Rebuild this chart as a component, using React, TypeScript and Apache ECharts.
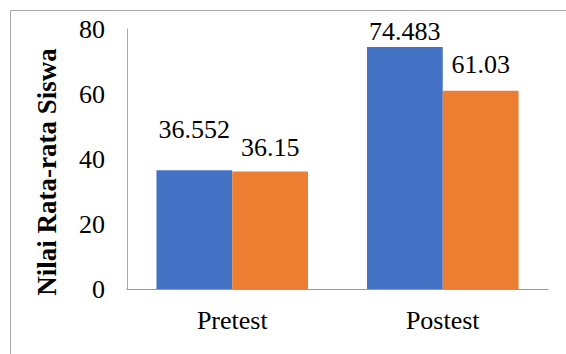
import React, { useEffect, useRef } from "react";
import * as echarts from "echarts";

const categories = ["Pretest", "Postest"];
const seriesA = [36.552, 74.483];
const seriesB = [36.15, 61.03];
const yTicks = [0, 20, 40, 60, 80];
const yTitle = "Nilai Rata-rata Siswa";

// gap between each bar top and its value label
const labelGapA = [28, 2];
const labelGapB = [11, 13];

const FONT = "Liberation Serif";

export default function App() {
  const ref = useRef<HTMLDivElement>(null);

  useEffect(() => {
    if (!ref.current) return;
    const chart = echarts.init(ref.current, null, { renderer: "svg" });
    const labelStyle = { show: true, position: "top" as const, color: "#000", fontFamily: FONT, fontSize: 26 };
    chart.setOption({
      animation: false,
      backgroundColor: "#fff",
      textStyle: { fontFamily: FONT },
      grid: { left: 127, right: 18, top: 29, bottom: 65, containLabel: false },
      xAxis: {
        type: "category",
        data: categories,
        axisLine: { lineStyle: { color: "#999", width: 1 } },
        axisTick: { show: false },
        axisLabel: { color: "#000", fontFamily: FONT, fontSize: 26, margin: 18 },
      },
      yAxis: {
        type: "value",
        min: yTicks[0],
        max: yTicks[yTicks.length - 1],
        interval: 20,
        axisLine: { show: true, lineStyle: { color: "#aaa", width: 1 } },
        axisTick: { show: false },
        splitLine: { show: false },
        axisLabel: { color: "#000", fontFamily: FONT, fontSize: 26, margin: 22 },
      },
      graphic: [
        { type: "line", shape: { x1: 10.5, y1: 10.5, x2: 566, y2: 10.5 }, style: { stroke: "#a6a6a6", lineWidth: 1 } },
        { type: "line", shape: { x1: 10.5, y1: 10.5, x2: 10.5, y2: 354 }, style: { stroke: "#a6a6a6", lineWidth: 1 } },
        {
          type: "text",
          x: 47,
          y: 172,
          rotation: Math.PI / 2,
          style: {
            text: yTitle,
            fontFamily: FONT,
            fontWeight: "bold",
            fontSize: 27,
            fill: "#000",
            align: "center",
            verticalAlign: "middle",
          },
        },
      ],
      series: [
        {
          type: "bar",
          data: seriesA.map((v, i) => ({ value: v, label: { distance: labelGapA[i] } })),
          itemStyle: { color: "#4472C4" },
          barGap: "0%",
          barCategoryGap: "28%",
          label: labelStyle,
        },
        {
          type: "bar",
          data: seriesB.map((v, i) => ({ value: v, label: { distance: labelGapB[i] } })),
          itemStyle: { color: "#ED7D31" },
          barGap: "0%",
          barCategoryGap: "28%",
          label: labelStyle,
        },
      ],
    });
    return () => chart.dispose();
  }, []);

  return <div ref={ref} style={{ position: "absolute", left: 0, top: 0, width: 566, height: 354 }} />;
}
